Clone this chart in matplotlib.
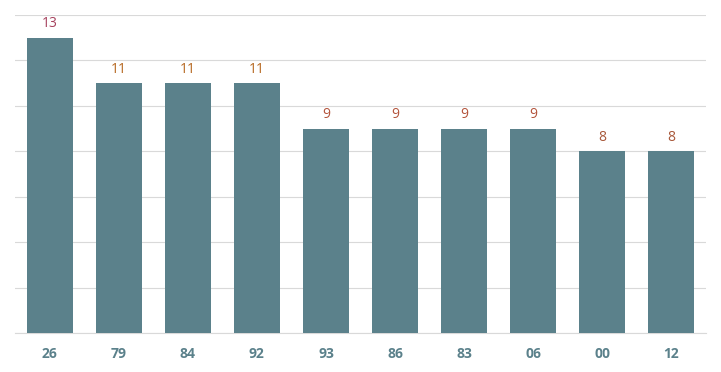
import matplotlib
matplotlib.use('Agg')
import matplotlib.pyplot as plt

categories = ['26', '79', '84', '92', '93', '86', '83', '06', '00', '12']
values = [13, 11, 11, 11, 9, 9, 9, 9, 8, 8]
label_colors = {13: '#a5405c', 11: '#b5661f', 9: '#b3543c', 8: '#a8583a'}

plt.rcParams['font.family'] = ['Open Sans', 'DejaVu Sans']

fig = plt.figure(figsize=(7.21, 3.72), dpi=100)
ax = fig.add_axes([15 / 721, 39 / 372, 691 / 721, 318 / 372])

x = range(len(categories))
ax.bar(x, values, width=0.667, color='#5b818b', zorder=3)
for i, v in zip(x, values):
    ax.text(i, v + 0.28, str(v), ha='center', va='bottom', fontsize=10,
            color=label_colors[v])

ax.set_xlim(-0.5, len(categories) - 0.5)
ax.set_ylim(0, 14)
ax.set_yticks(range(0, 15, 2))
ax.yaxis.grid(True, color='#d9d9d9', linewidth=0.8, zorder=0)
ax.tick_params(axis='y', left=False, labelleft=False)
ax.tick_params(axis='x', length=0, pad=10)
ax.set_xticks(list(x))
ax.set_xticklabels(categories, fontsize=10, fontweight='bold', color='#5b818b')
for s in ['top', 'right', 'left']:
    ax.spines[s].set_visible(False)
ax.spines['bottom'].set_color('#d9d9d9')

fig.savefig('out.png', dpi=100)
